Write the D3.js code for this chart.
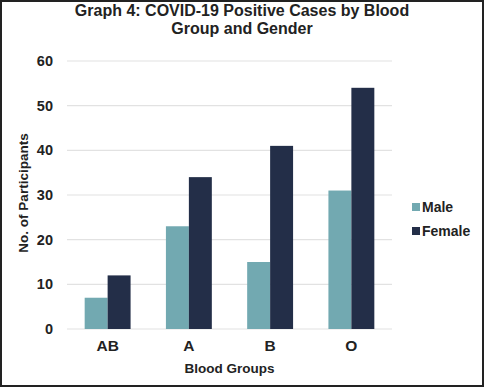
<!DOCTYPE html>
<html>
<head>
<meta charset="utf-8">
<script src="https://cdn.jsdelivr.net/npm/d3@7"></script>
<style>
  html, body { margin: 0; padding: 0; background: #fff; }
  svg { display: block; font-family: "Liberation Sans", Arial, sans-serif; }
</style>
</head>
<body>
<svg id="chart" width="484" height="387"></svg>
<script>
const groups = ["AB", "A", "B", "O"];
const series = ["Male", "Female"];
const male = [7, 23, 15, 31];
const female = [12, 34, 41, 54];
const yTicks = [0, 10, 20, 30, 40, 50, 60];

const W = 484, H = 387;
const M = { top: 61, left: 67, right: 92, bottom: 58 };
const C = { Male: "#72a9b1", Female: "#232e48", grid: "#e2e2e2", text: "#222" };

const svg = d3.select("#chart");

svg.append("rect")
  .attr("x", 1).attr("y", 1).attr("width", W - 2).attr("height", H - 2)
  .attr("fill", "#fff").attr("stroke", "#222").attr("stroke-width", 2);

const x = d3.scaleBand().domain(groups).range([M.left, W - M.right]).paddingInner(0.435).paddingOuter(0.2175);
const xs = d3.scaleBand().domain(series).range([0, x.bandwidth()]);
const y = d3.scaleLinear().domain([0, 60]).range([H - M.bottom, M.top]);

// gridlines
svg.append("g").selectAll("line").data(yTicks).enter().append("line")
  .attr("x1", M.left).attr("x2", W - M.right)
  .attr("y1", d => y(d)).attr("y2", d => y(d))
  .attr("stroke", C.grid).attr("stroke-width", 1.2);

// y axis labels
const yAxis = svg.append("g")
  .attr("transform", "translate(" + (M.left - 2) + ",0)")
  .call(d3.axisLeft(y).tickValues(yTicks).tickSize(0).tickPadding(12));
yAxis.select(".domain").remove();
yAxis.selectAll("text")
  .attr("fill", C.text).attr("font-size", "14.5px").attr("font-weight", "700")
  .attr("font-family", "Liberation Sans, Arial, sans-serif");

// bars
const rows = groups.map((g, i) => ({ g, Male: male[i], Female: female[i] }));
const grp = svg.append("g").selectAll("g").data(rows).enter().append("g")
  .attr("transform", d => "translate(" + x(d.g) + ",0)");
grp.selectAll("rect").data(d => series.map(s => ({ s, v: d[s] }))).enter().append("rect")
  .attr("x", d => xs(d.s))
  .attr("y", d => y(d.v))
  .attr("width", xs.bandwidth())
  .attr("height", d => y(0) - y(d.v))
  .attr("fill", d => C[d.s]);

// x axis labels
const xAxis = svg.append("g")
  .attr("transform", "translate(0," + y(0) + ")")
  .call(d3.axisBottom(x).tickSize(0).tickPadding(11));
xAxis.select(".domain").remove();
xAxis.selectAll("text")
  .attr("fill", C.text).attr("font-size", "15.5px").attr("font-weight", "700")
  .attr("font-family", "Liberation Sans, Arial, sans-serif");

// axis titles
svg.append("text")
  .attr("x", (M.left + W - M.right) / 2).attr("y", 373)
  .attr("text-anchor", "middle").attr("fill", C.text)
  .attr("font-size", "13.5px").attr("font-weight", "700")
  .text("Blood Groups");

svg.append("text")
  .attr("transform", "translate(28," + ((M.top + H - M.bottom) / 2 - 2) + ") rotate(-90)")
  .attr("text-anchor", "middle").attr("fill", C.text)
  .attr("font-size", "13.5px").attr("font-weight", "700")
  .text("No. of Participants");

// title
const title = svg.append("text")
  .attr("text-anchor", "middle").attr("fill", C.text)
  .attr("font-size", "16px").attr("font-weight", "700");
title.append("tspan").attr("x", 242).attr("y", 16).text("Graph 4: COVID-19 Positive Cases by Blood");
title.append("tspan").attr("x", 242).attr("y", 34).text("Group and Gender");

// legend
const leg = svg.append("g").selectAll("g").data(series).enter().append("g")
  .attr("transform", (d, i) => "translate(412," + (208 + i * 24) + ")");
leg.append("rect").attr("x", 0).attr("y", -5).attr("width", 8).attr("height", 8)
  .attr("fill", d => C[d]);
leg.append("text").attr("x", 10).attr("y", 4)
  .attr("fill", C.text).attr("font-size", "14px").attr("font-weight", "700")
  .text(d => d);
</script>
</body>
</html>
